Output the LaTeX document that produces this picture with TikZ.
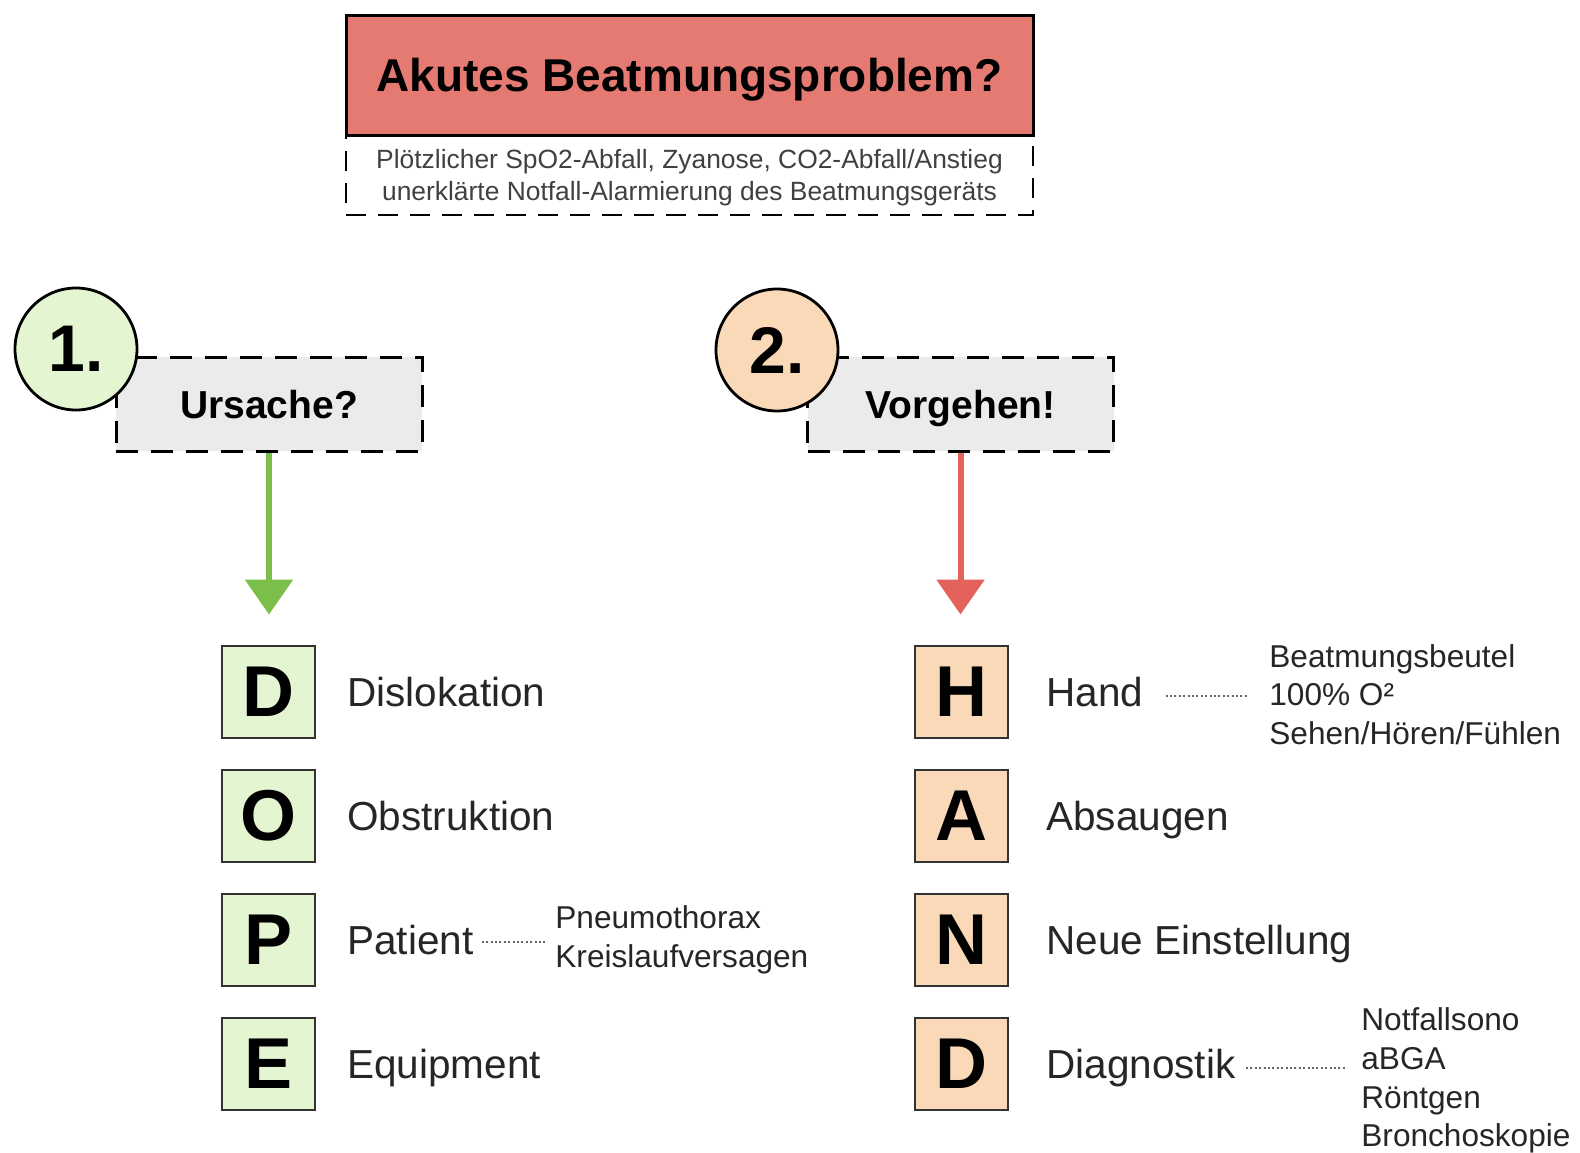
\documentclass[tikz,border=0pt]{standalone}
\usepackage{fontspec}
\setmainfont{Liberation Sans}
\usetikzlibrary{arrows.meta}
\definecolor{titlered}{HTML}{E57A72}
\definecolor{qgray}{HTML}{EBEBEB}
\definecolor{lgreen}{HTML}{E4F5D2}
\definecolor{lpeach}{HTML}{F9D9B8}
\definecolor{agreen}{HTML}{7BBE4A}
\definecolor{ared}{HTML}{E4625C}
\tikzset{
 titlebox/.style={draw=black, line width=1.5pt, fill=titlered, minimum width=343.5pt, minimum height=60pt, inner sep=0pt, text height=16.5pt, text depth=0pt, font=\bfseries\fontsize{23}{27}\selectfont},
 subbox/.style={draw=black, line width=1.3pt, dash pattern=on 10pt off 6pt, minimum width=343.5pt, minimum height=40.5pt, inner sep=0pt},
 numcircle/.style={circle, draw=black, line width=1.4pt, minimum size=61pt, inner sep=0pt, font=\bfseries\fontsize{33}{36}\selectfont},
 qbox/.style={draw=black, line width=1.5pt, dash pattern=on 11pt off 6.5pt, fill=qgray, minimum width=153pt, minimum height=47pt, inner sep=0pt, text height=14pt, text depth=0pt, font=\bfseries\fontsize{19.5}{22}\selectfont},
 letterbox/.style={draw=black!80, line width=1pt, minimum width=46.5pt, minimum height=46pt, inner sep=0pt, font=\bfseries\fontsize{36}{40}\selectfont},
 lbl/.style={anchor=base west, inner sep=0pt, text=black!85, font=\fontsize{20.25}{24}\selectfont},
 detail/.style={anchor=west, inner sep=0pt, align=left, text=black!85, font=\fontsize{15.8}{19.4}\selectfont},
 dotline/.style={black!60, line width=0.6pt, dash pattern=on 1pt off 1.2pt},
 bigarrow/.style={line width=3pt, -{Triangle[width=23.5pt,length=17.5pt]}},
}
\begin{document}
\begin{tikzpicture}[x=0.5pt,y=-0.5pt]
\useasboundingbox (0,0) rectangle (1580,1152);
% header
\node[subbox] (sub) at (689.5,174.5) {};
\node[align=center, inner sep=0pt, text=black!75, font=\fontsize{13.2}{16}\selectfont] (subtxt) at (689.5,177.5) {Plötzlicher SpO2-Abfall, Zyanose, CO2-Abfall/Anstieg\\unerklärte Notfall-Alarmierung des Beatmungsgeräts};
\node[titlebox] (title) at (689.5,75) {Akutes Beatmungsproblem?};
% question boxes
\node[qbox] (urs) at (269,404) {Ursache?};
\node[qbox] (vor) at (960.5,404) {Vorgehen!};
\node[numcircle, fill=lgreen] (c1) at (76,349) {1.};
\node[numcircle, fill=lpeach] (c2) at (777,350) {2.};
% arrows
\path (urs.south) ++(0,162) coordinate (gtip);
\path (vor.south) ++(0,162) coordinate (rtip);
\draw[bigarrow, agreen] (urs.south) -- (gtip);
\draw[bigarrow, ared] (vor.south) -- (rtip);
% DOPE
\node[letterbox, fill=lgreen] (bD) at (268.5,692) {D};
\node[letterbox, fill=lgreen] (bO) at (268.5,816) {O};
\node[letterbox, fill=lgreen] (bP) at (268.5,940) {P};
\node[letterbox, fill=lgreen] (bE) at (268.5,1064) {E};
\node[lbl] (lD) at (347,706.5) {Dislokation};
\node[lbl] (lO) at (347,830.5) {Obstruktion};
\node[lbl] (lP) at (347,954.5) {Patient};
\node[lbl] (lE) at (347,1078.5) {Equipment};
\node[detail] (dP) at (555,940) {Pneumothorax\\Kreislaufversagen};
\draw[dotline] ([xshift=4pt,yshift=-1pt]lP.east) -- ([xshift=-5pt,yshift=-1pt]lP.east -| dP.west);
% HAND
\node[letterbox, fill=lpeach] (bH) at (961.5,692) {H};
\node[letterbox, fill=lpeach] (bA) at (961.5,816) {A};
\node[letterbox, fill=lpeach] (bN) at (961.5,940) {N};
\node[letterbox, fill=lpeach] (bD2) at (961.5,1064) {D};
\node[lbl] (lH) at (1046,706.5) {Hand};
\node[lbl] (lA) at (1046,830.5) {Absaugen};
\node[lbl] (lN) at (1046,954.5) {Neue Einstellung};
\node[lbl] (lD2) at (1046,1078.5) {Diagnostik};
\node[detail] (dH) at (1269,694.5) {Beatmungsbeutel\\100\% O²\\Sehen/Hören/Fühlen};
\node[detail] (dD) at (1361,1080.5) {Notfallsono\\aBGA\\Röntgen\\Bronchoskopie};
\draw[dotline] ([xshift=11pt,yshift=-2pt]lH.east) -- ([xshift=-10pt,yshift=-2pt]lH.east -| dH.west);
\draw[dotline] ([xshift=5pt]lD2.east) -- ([xshift=-7pt]lD2.east -| dD.west);
\end{tikzpicture}
\end{document}
